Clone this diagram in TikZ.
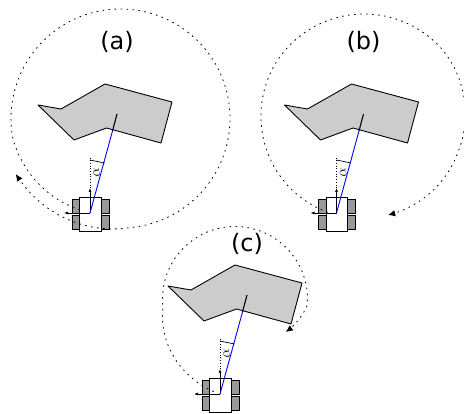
\documentclass[tikz,border=0pt]{standalone}
\usepackage{fontspec}
\setmainfont{DejaVu Sans}
\usetikzlibrary{arrows.meta}
\tikzset{
  wheel/.style={draw=black,fill=black!40,line width=0.9pt},
  bodybox/.style={draw=black,fill=white,line width=0.9pt},
  poly/.style={draw=black,fill=black!20,line width=0.9pt,line join=round},
  axisarrow/.style={draw=black,line width=0.6pt,-{Latex[length=4pt,width=3pt]}},
  refline/.style={draw=black,dotted,line width=0.7pt},
  bearing/.style={draw=blue,line width=0.9pt},
  spiral/.style={draw=black,line width=0.8pt,dash pattern=on 1.6pt off 4.4pt,-{Latex[length=7pt,width=6.5pt]},samples=140,smooth},
  caption/.style={font=\fontsize{24}{28}\selectfont,inner sep=0pt},
  anglelabel/.style={font=\fontsize{14}{16}\selectfont,inner sep=0pt,rotate=100}
}
\newcommand{\robotscene}{%
  \draw[poly] (38,105)--(61,109)--(105,84)--(172,102)--(161,143)--(106.5,128)--(74,140)--cycle;
  \draw[wheel] (72,199) rectangle (79.5,213);
  \draw[wheel] (72,215.5) rectangle (79.5,229.5);
  \draw[wheel] (101,199) rectangle (109,213);
  \draw[wheel] (101,215.5) rectangle (109,229.5);
  \draw[bodybox] (79.5,197) rectangle (101,231);
  \coordinate (c) at (90,213);
  \coordinate (up) at (90,188);
  \coordinate (lf) at (64,213);
  \coordinate (dt) at (90,156);
  \coordinate (ac) at (104.5,163);
  \coordinate (tp) at (117,114);
  \coordinate (ed) at (112.5,131);
  \draw[refline] (up)--(dt);
  \draw[axisarrow] (c)--(up);
  \draw[axisarrow] (c)--(lf);
  \draw[bearing] (c)--(ed);
  \draw[black,line width=1.1pt] (ed)--(tp);
  \draw[black,line width=0.7pt] (90,160)--(ac);
  \node[anglelabel] (al) at (96.5,172.5) {$\alpha$};
}
\begin{document}
\begin{tikzpicture}[x=1pt,y=-1pt]
\useasboundingbox (0,0) rectangle (464,414);
\clip (0,0) rectangle (464,414);
\begin{scope}
  \robotscene
  \draw[spiral,domain=114:512] plot ({120.5+(100+9.5*min(1,(\x-114)/55)+9*max(0,(\x-445)/67))*cos(\x)},{118.5+(100+9.5*min(1,(\x-114)/55)+9*max(0,(\x-445)/67))*sin(\x)});
\end{scope}
\node[caption] (la) at (117,42) {(a)};
\begin{scope}[shift={(246.5,0)}]
  \robotscene
\end{scope}
\draw[spiral,domain=111:436] plot ({364+(101+3*min(1,(\x-111)/100)-4*min(1,max(0,(\x-320)/60)))*cos(\x)},{118+(101+3*min(1,(\x-111)/100)-4*min(1,max(0,(\x-320)/60)))*sin(\x)});
\node[caption] (lb) at (363.5,42) {(b)};
\begin{scope}[shift={(130,181)}]
  \robotscene
\end{scope}
\draw[spiral,domain=103:393] plot ({235+(95-22.5*min(1,(\x-103)/70)-12*max(0,(\x-365)/28))*cos(\x)},{299+(95-22.5*min(1,(\x-103)/70)-12*max(0,(\x-365)/28))*sin(\x)});
\node[caption] (lc) at (247,244) {(c)};
\end{tikzpicture}
\end{document}
